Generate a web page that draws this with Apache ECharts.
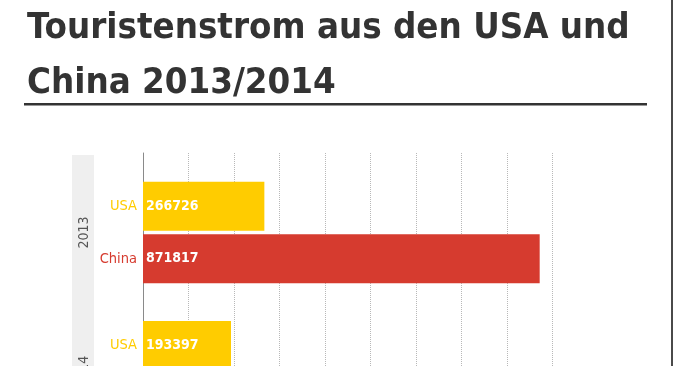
<!DOCTYPE html>
<html><head><meta charset="utf-8">
<script src="https://cdn.jsdelivr.net/npm/echarts@6/dist/echarts.min.js"></script>
<style>html,body{margin:0;padding:0;background:#fff;overflow:hidden;width:673px;height:366px}#c{width:673px;height:600px}</style>
</head><body><div id="c"></div>
<script>
// Data
const years = ['2013', '2014'];
const seriesNames = ['USA', 'China'];
const usaValues = [266726, 193397];
const chinaValues = [871817, null]; // 2014 China bar lies outside the visible crop
const xTicks = [0, 100000, 200000, 300000, 400000, 500000, 600000, 700000, 800000, 900000];

const YELLOW = '#FFCC00', RED = '#D63B2F';
const COND = "'DejaVu Sans Condensed', 'DejaVu Sans', sans-serif";
const NAME_SIZE = 14.5, VAL_SIZE = 14;

const cv = document.createElement('canvas').getContext('2d');
// fit title to the reference line width
cv.font = "bold 40px " + COND;
const w40 = cv.measureText('Touristenstrom aus den USA und').width;
const titleSize = Math.round(40 * 603 / w40 * 10) / 10;
function nameWidth(s) { cv.font = NAME_SIZE + "px " + COND; return cv.measureText(s).width; }

const chart = echarts.init(document.getElementById('c'), null, {renderer: 'canvas'});

function lbl(name, color) {
  return {
    show: true, position: 'insideLeft', distance: 0, offset: [-(6 + nameWidth(name)), 0],
    formatter: p => '{n|' + p.seriesName + '}{v|' + p.value + '}',
    rich: {
      n: {color: color, fontFamily: COND, fontSize: NAME_SIZE},
      v: {padding: [0, 0, 0, 9], color: '#fff', fontFamily: COND, fontWeight: 'bold', fontSize: VAL_SIZE}
    }
  };
}

chart.setOption({
  animation: false,
  title: {
    text: 'Touristenstrom aus den USA und\nChina 2013/2014',
    left: 22, top: -4,
    textStyle: {fontFamily: COND, fontWeight: 'bold', fontSize: titleSize, lineHeight: 55, color: '#333'}
  },
  graphic: [
    {type: 'rect', z: -10, shape: {x: 72, y: 155, width: 22, height: 260}, style: {fill: '#efefef'}},
    {type: 'rect', shape: {x: 24, y: 103, width: 623, height: 2.5}, style: {fill: '#333'}},
    {type: 'rect', shape: {x: 671, y: 0, width: 2, height: 366}, style: {fill: '#4a4a4a'}}
  ],
  grid: [
    {left: 143, width: 409.5, top: 153, height: 400, outerBoundsMode: 'none'},
    {left: 143, width: 409.5, top: 162.85, height: 278.6, outerBoundsMode: 'none'}
  ],
  xAxis: [
    {gridIndex: 0, type: 'value', min: xTicks[0], max: xTicks[xTicks.length - 1], interval: xTicks[1] - xTicks[0],
     axisLabel: {show: false}, axisLine: {show: false}, axisTick: {show: false},
     splitLine: {show: true, lineStyle: {color: '#b8b8b8', type: 'dotted', width: 1}}},
    {gridIndex: 1, type: 'value', min: xTicks[0], max: xTicks[xTicks.length - 1], show: false, splitLine: {show: false}}
  ],
  yAxis: [
    {gridIndex: 0, type: 'value', axisLabel: {show: false}, axisTick: {show: false}, splitLine: {show: false},
     axisLine: {show: true, lineStyle: {color: '#8a8a8a', width: 1}}},
    {gridIndex: 1, type: 'category', data: years, inverse: true,
     axisLine: {show: false}, axisTick: {show: false},
     axisLabel: {rotate: 90, margin: 52, color: '#555', fontFamily: COND, fontSize: 14}}
  ],
  series: [
    {name: seriesNames[0], type: 'bar', xAxisIndex: 1, yAxisIndex: 1, data: usaValues, barWidth: 49, barGap: '7.3%',
     itemStyle: {color: YELLOW}, label: lbl(seriesNames[0], YELLOW)},
    {name: seriesNames[1], type: 'bar', xAxisIndex: 1, yAxisIndex: 1, data: chinaValues, barWidth: 49, barGap: '7.3%',
     itemStyle: {color: RED}, label: lbl(seriesNames[1], RED)}
  ]
});
</script></body></html>
